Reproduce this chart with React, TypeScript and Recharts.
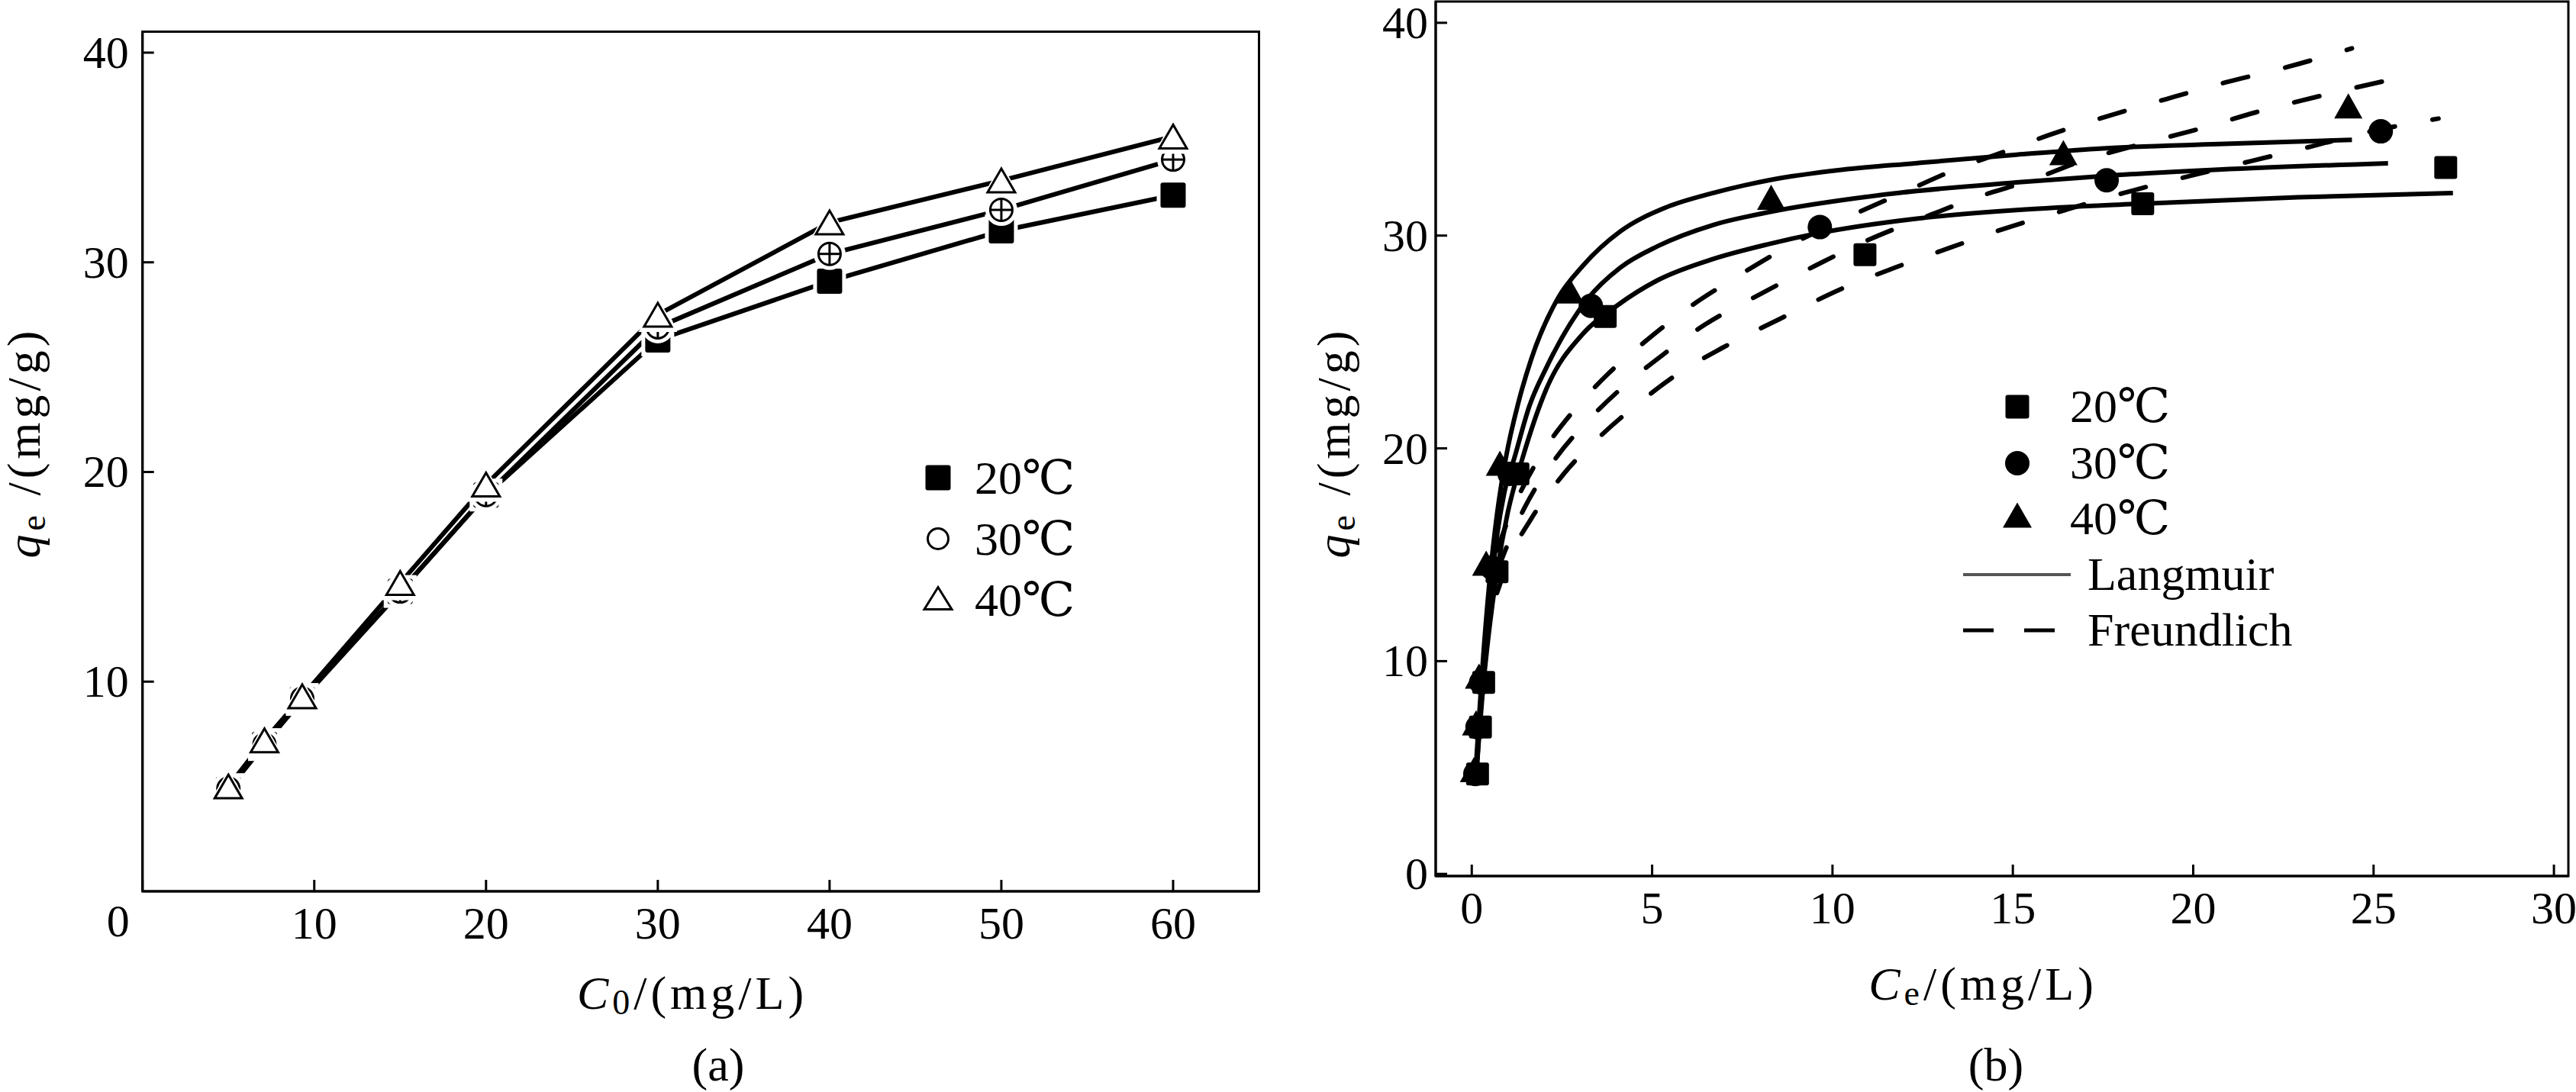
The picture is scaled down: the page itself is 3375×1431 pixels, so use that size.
import React from "react";
import { LineChart, Line, XAxis, YAxis, ReferenceArea, ComposedChart, Scatter } from "recharts";

const FONT = "'Liberation Serif', 'DejaVu Serif', serif";

// (a) initial concentration C0 vs uptake qe
const c0 = [5, 7.1, 9.3, 15, 20, 30, 40, 50, 60];
const qa20 = [4.85, 7.0, 9.15, 14.3, 18.9, 26.3, 29.1, 31.5, 33.2];
const qa30 = [4.9, 7.0, 9.2, 14.3, 18.9, 26.9, 30.4, 32.5, 34.9];
const qa40 = [5.0, 7.2, 9.3, 14.7, 19.4, 27.5, 31.9, 33.9, 36.0];
const ticksAX = [0, 10, 20, 30, 40, 50, 60];
const ticksAY = [10, 20, 30, 40];

// (b) equilibrium concentration Ce vs qe, measured points
const ce20 = [0.16, 0.24, 0.33, 0.7, 1.28, 3.7, 10.9, 18.6, 27.0];
const qe20 = [4.7, 6.9, 9.0, 14.2, 18.8, 26.2, 29.1, 31.5, 33.2];
const ce30 = [0.1, 0.16, 0.26, 0.55, 1.05, 3.3, 9.65, 17.6, 25.2];
const qe30 = [4.7, 6.9, 9.0, 14.4, 18.8, 26.7, 30.4, 32.6, 34.9];
const ce40 = [0.06, 0.12, 0.2, 0.4, 0.78, 2.72, 8.3, 16.4, 24.3];
const qe40 = [4.9, 7.1, 9.3, 14.6, 19.3, 27.4, 31.8, 33.9, 36.1];

// Langmuir fit curves (solid)
const lang20x = [0.12, 0.2, 0.3, 0.5, 0.7, 1.0, 1.4, 2.07, 3.09, 4.02, 5.15, 6.69, 8.23, 9.57, 12.34, 15.1, 18.55, 22.9, 27.2];
const lang20y = [4.5, 6.4, 8.5, 11.7, 14.2, 17.0, 19.5, 22.8, 25.4, 26.7, 27.9, 28.9, 29.6, 30.1, 30.8, 31.2, 31.5, 31.8, 32.0];
const lang30x = [0.12, 0.2, 0.3, 0.5, 0.7, 0.9, 1.19, 1.6, 2.07, 3.2, 4.12, 5.15, 6.69, 8.23, 11.3, 15.1, 17.5, 20.7, 25.4];
const lang30y = [4.5, 6.6, 8.9, 12.8, 15.9, 17.9, 19.6, 22.0, 23.8, 27.0, 28.5, 29.5, 30.5, 31.1, 31.9, 32.5, 32.8, 33.1, 33.4];
const lang40x = [0.1, 0.2, 0.3, 0.5, 0.7, 0.94, 1.3, 1.65, 2.37, 3.09, 4.12, 5.35, 6.69, 8.23, 10.3, 12.3, 15.1, 17.5, 20.7, 24.4];
const lang40y = [4.6, 7.3, 9.8, 13.9, 16.9, 19.5, 22.2, 24.2, 27.0, 28.6, 30.2, 31.3, 32.0, 32.6, 33.1, 33.4, 33.8, 34.1, 34.3, 34.5];

// Freundlich fit curves (dashed)
const fr20x = [0.7, 1.06, 1.65, 2.55, 3.58, 4.61, 5.71, 6.92, 8.56, 10.25, 11.74, 13.21, 14.72, 16.45, 18.07, 19.9, 21.6, 23.3, 24.67, 26.8];
const fr20y = [13.2, 14.9, 16.7, 18.8, 20.6, 22.1, 23.5, 24.7, 26.1, 27.5, 28.5, 29.4, 30.3, 31.2, 32.0, 32.8, 33.5, 34.2, 34.8, 35.5];
const fr30x = [0.7, 1.0, 1.46, 2.27, 3.22, 4.2, 5.3, 6.45, 7.94, 9.54, 11.0, 12.46, 14.0, 15.5, 16.9, 18.55, 20.14, 21.75, 23.37, 25.4];
const fr30y = [14.2, 15.5, 17.2, 19.4, 21.3, 22.9, 24.4, 25.8, 27.2, 28.6, 29.8, 30.8, 31.8, 32.6, 33.5, 34.3, 35.0, 35.8, 36.5, 37.3];
const fr40x = [0.7, 1.0, 1.31, 1.96, 2.84, 3.78, 4.79, 5.92, 7.38, 9.0, 10.47, 11.93, 13.4, 14.85, 15.96, 17.6, 19.22, 20.9, 22.56, 24.4];
const fr40y = [15.2, 16.6, 17.8, 19.8, 21.8, 23.5, 25.0, 26.5, 28.1, 29.7, 30.9, 32.0, 33.1, 34.0, 34.7, 35.6, 36.4, 37.2, 37.9, 38.8];
const ticksBX = [0, 5, 10, 15, 20, 25, 30];
const ticksBY = [0, 10, 20, 30, 40];

const tempNames = ["20℃", "30℃", "40℃"];
const modelNames = ["Langmuir", "Freundlich"];

const zip = (xs: number[], ys: number[]) => xs.map((x, i) => ({ x, y: ys[i] }));
const dataA = c0.map((x, i) => ({ x, t20: qa20[i], t30: qa30[i], t40: qa40[i] }));

function Square({ cx, cy, size = 32, halo = 0 }: any) {
  return (
    <g>
      {halo > 0 && <rect x={cx - size / 2 - halo} y={cy - size / 2 - halo} width={size + 2 * halo} height={size + 2 * halo} fill="#fff" />}
      <rect x={cx - size / 2} y={cy - size / 2} width={size} height={size} rx={3} fill="#000" />
    </g>
  );
}

function Circle({ cx, cy, r = 16, halo = 0, hollow = false, cross = false }: any) {
  return (
    <g>
      {halo > 0 && <circle cx={cx} cy={cy} r={r + halo} fill="#fff" />}
      <circle cx={cx} cy={cy} r={hollow ? r - 1.5 : r} fill={hollow ? "#fff" : "#000"} stroke="#000" strokeWidth={hollow ? 3 : 0} />
      {cross && (
        <g stroke="#000" strokeWidth={3}>
          <line x1={cx - r + 2} x2={cx + r - 2} y1={cy} y2={cy} />
          <line x1={cx} x2={cx} y1={cy - r + 2} y2={cy + r - 2} />
        </g>
      )}
    </g>
  );
}

function Triangle({ cx, cy, w = 38, h = 33, halo = 0, hollow = false }: any) {
  const pts = (ww: number, hh: number) => `${cx},${cy - hh / 2} ${cx + ww / 2},${cy + hh / 2} ${cx - ww / 2},${cy + hh / 2}`;
  return (
    <g>
      {halo > 0 && <polygon points={pts(w + halo * 2.4, h + halo * 2.2)} fill="#fff" />}
      <polygon points={pts(hollow ? w - 3 : w, hollow ? h - 3 : h)} fill={hollow ? "#fff" : "#000"} stroke="#000" strokeWidth={hollow ? 3 : 0} strokeLinejoin="miter" />
    </g>
  );
}

// inward tick marks, labels placed by hand
const makeXTick = (zeroShift: number) => (p: any) => {
  const v = p.payload.value;
  const isZero = v === 0 && zeroShift !== 0;
  return (
    <g>
      <line x1={p.x} x2={p.x} y1={p.y} y2={p.y - 15} stroke="#000" strokeWidth={3} />
      <text x={p.x + (isZero ? zeroShift : 0)} y={p.y + (isZero ? 59 : 62)} textAnchor="middle" fontFamily={FONT} fontSize={60} fill="#000">
        {v}
      </text>
    </g>
  );
};

const makeYTick = (gap: number) => (p: any) => (
  <g>
    <line x1={p.x} x2={p.x + 15} y1={p.y} y2={p.y} stroke="#000" strokeWidth={3} />
    <text x={p.x - gap} y={p.y + 20} textAnchor="end" fontFamily={FONT} fontSize={60} fill="#000">
      {p.payload.value}
    </text>
  </g>
);

function ChartA() {
  return (
    <LineChart width={1700} height={1431} data={dataA} margin={{ top: 41.5, right: 50.5, bottom: 262, left: 185.7 }}>
      <XAxis type="number" dataKey="x" domain={[0, 65]} ticks={ticksAX} interval={0} height={1} tickSize={0} tickMargin={0}
        tickLine={false} axisLine={{ stroke: "#000", strokeWidth: 3 }} tick={makeXTick(-32)} />
      <YAxis type="number" domain={[0, 41]} ticks={ticksAY} interval={0} width={1} tickSize={0} tickMargin={0}
        tickLine={false} axisLine={{ stroke: "#000", strokeWidth: 3 }} tick={makeYTick(18)} />
      <ReferenceArea x1={0} x2={65} y1={0} y2={41} fill="none" stroke="#000" strokeWidth={3} />
      <Line dataKey="t20" stroke="#000" strokeWidth={6} strokeLinecap="round" isAnimationActive={false}
        dot={(p: any) => <Square key={p.index} cx={p.cx} cy={p.cy} size={33} halo={5} />} />
      <Line dataKey="t30" stroke="#000" strokeWidth={6} strokeLinecap="round" isAnimationActive={false}
        dot={(p: any) => <Circle key={p.index} cx={p.cx} cy={p.cy} r={16} halo={5} hollow cross />} />
      <Line dataKey="t40" stroke="#000" strokeWidth={6} strokeLinecap="round" isAnimationActive={false}
        dot={(p: any) => <Triangle key={p.index} cx={p.cx} cy={p.cy} w={39} h={34} halo={5} hollow />} />
    </LineChart>
  );
}

function ChartB() {
  const solid = { stroke: "#000", strokeWidth: 6, dot: false, type: "monotone" as const, isAnimationActive: false };
  const dashed = { ...solid, strokeDasharray: "34 50", strokeLinecap: "round" as const };
  return (
    <ComposedChart width={1675} height={1431} margin={{ top: 2, right: 10, bottom: 282, left: 180 }}>
      <XAxis type="number" dataKey="x" domain={[-1, 30.4]} ticks={ticksBX} interval={0} height={1} tickSize={0} tickMargin={0}
        tickLine={false} axisLine={{ stroke: "#000", strokeWidth: 3 }} tick={makeXTick(0)} allowDataOverflow />
      <YAxis type="number" dataKey="y" domain={[-0.1, 41]} ticks={ticksBY} interval={0} width={1} tickSize={0} tickMargin={0}
        tickLine={false} axisLine={{ stroke: "#000", strokeWidth: 3 }} tick={makeYTick(10)} allowDataOverflow />
      <ReferenceArea x1={-1} x2={30.4} y1={-0.1} y2={41} fill="none" stroke="#000" strokeWidth={3} />
      <Line data={zip(fr20x, fr20y)} dataKey="y" {...dashed} />
      <Line data={zip(fr30x, fr30y)} dataKey="y" {...dashed} />
      <Line data={zip(fr40x, fr40y)} dataKey="y" {...dashed} />
      <Line data={zip(lang20x, lang20y)} dataKey="y" {...solid} />
      <Line data={zip(lang30x, lang30y)} dataKey="y" {...solid} />
      <Line data={zip(lang40x, lang40y)} dataKey="y" {...solid} />
      <Scatter data={zip(ce20, qe20)} dataKey="y" isAnimationActive={false}
        shape={(p: any) => <Square cx={p.cx} cy={p.cy} size={30} />} />
      <Scatter data={zip(ce30, qe30)} dataKey="y" isAnimationActive={false}
        shape={(p: any) => <Circle cx={p.cx} cy={p.cy} r={16} />} />
      <Scatter data={zip(ce40, qe40)} dataKey="y" isAnimationActive={false}
        shape={(p: any) => <Triangle cx={p.cx} cy={p.cy} w={37} h={33} />} />
    </ComposedChart>
  );
}

function YTitle({ x, y }: { x: number; y: number }) {
  return (
    <text x={x} y={y} transform={`rotate(-90, ${x}, ${y})`} textAnchor="middle" fontFamily={FONT} fontSize={62} letterSpacing={5}>
      <tspan fontStyle="italic">q</tspan>
      <tspan fontSize={46} dy={7}>e</tspan>
      <tspan dy={-7}> /(mg/g)</tspan>
    </text>
  );
}

function XTitle({ x, y, sub }: { x: number; y: number; sub: string }) {
  return (
    <text x={x} y={y} textAnchor="middle" fontFamily={FONT} fontSize={62} letterSpacing={5}>
      <tspan fontStyle="italic">C</tspan>
      <tspan fontSize={46} dy={7}>{sub}</tspan>
      <tspan dy={-7}>/(mg/L)</tspan>
    </text>
  );
}

function Overlay() {
  const t = { fontFamily: FONT, fontSize: 62, fill: "#000" };
  return (
    <svg width={3375} height={1431} style={{ position: "absolute", left: 0, top: 0, pointerEvents: "none" }}>
      <YTitle x={52} y={580} />
      <XTitle x={907} y={1322} sub="0" />
      <text x={941} y={1416} textAnchor="middle" {...t}>(a)</text>

      <YTitle x={1768} y={580} />
      <XTitle x={2598} y={1310} sub="e" />
      <text x={2615} y={1416} textAnchor="middle" {...t}>(b)</text>

      {/* legend (a) */}
      <Square cx={1229} cy={626} size={33} />
      <Circle cx={1229} cy={706} r={15} hollow />
      <Triangle cx={1229} cy={784} w={39} h={32} hollow />
      {tempNames.map((n, i) => (
        <text key={n} x={1277} y={647 + i * 80} {...t}>{n}</text>
      ))}

      {/* legend (b) */}
      <Square cx={2643} cy={533} size={31} />
      <Circle cx={2643} cy={607} r={16} />
      <Triangle cx={2643} cy={675} w={38} h={33} />
      {tempNames.map((n, i) => (
        <text key={n} x={2712} y={553 + i * 73.5} {...t}>{n}</text>
      ))}
      <line x1={2572} x2={2713} y1={753} y2={753} stroke="#555" strokeWidth={4} />
      <line x1={2572} x2={2692} y1={826} y2={826} stroke="#000" strokeWidth={5} strokeDasharray="40 40" />
      <text x={2735} y={773} {...t}>{modelNames[0]}</text>
      <text x={2735} y={846} {...t}>{modelNames[1]}</text>
    </svg>
  );
}

export default function App() {
  return (
    <div style={{ position: "absolute", left: 0, top: 0, width: 3375, height: 1431, background: "#fff", overflow: "hidden" }}>
      <div style={{ position: "absolute", left: 0, top: 0 }}>
        <ChartA />
      </div>
      <div style={{ position: "absolute", left: 1700, top: 0 }}>
        <ChartB />
      </div>
      <Overlay />
    </div>
  );
}
